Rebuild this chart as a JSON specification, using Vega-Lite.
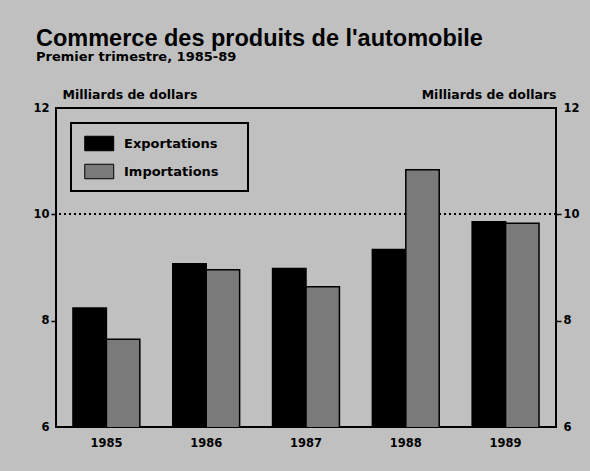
{
  "$schema": "https://vega.github.io/schema/vega-lite/v6.json",
  "width": 500,
  "height": 319,
  "autosize": {"type": "none"},
  "padding": {"left": 56, "top": 108, "right": 34, "bottom": 44},
  "background": "#c0c0c0",
  "title": {
    "text": "Commerce des produits de l'automobile",
    "subtitle": "Premier trimestre, 1985-89",
    "anchor": "start",
    "frame": "bounds",
    "dx": 3,
    "font": "Liberation Sans",
    "fontSize": 23.5,
    "fontWeight": "bold",
    "color": "black",
    "subtitleFont": "DejaVu Sans",
    "subtitleFontSize": 13,
    "subtitleFontWeight": "bold",
    "subtitleColor": "black",
    "subtitlePadding": 1,
    "offset": 24
  },
  "data": {
    "values": [
      {"annee": "1985", "serie": "Exportations", "valeur": 8.24},
      {"annee": "1985", "serie": "Importations", "valeur": 7.65},
      {"annee": "1986", "serie": "Exportations", "valeur": 9.07},
      {"annee": "1986", "serie": "Importations", "valeur": 8.96},
      {"annee": "1987", "serie": "Exportations", "valeur": 8.98},
      {"annee": "1987", "serie": "Importations", "valeur": 8.64},
      {"annee": "1988", "serie": "Exportations", "valeur": 9.34},
      {"annee": "1988", "serie": "Importations", "valeur": 10.84},
      {"annee": "1989", "serie": "Exportations", "valeur": 9.86},
      {"annee": "1989", "serie": "Importations", "valeur": 9.83}
    ]
  },
  "layer": [
    {
      "mark": {"type": "rule", "strokeDash": [2, 3], "strokeWidth": 1.5, "color": "black"},
      "encoding": {
        "y": {
          "datum": 10,
          "type": "quantitative",
          "scale": {"domain": [6, 12], "zero": false, "nice": false},
          "axis": {
            "orient": "right",
            "values": [6, 8, 10, 12],
            "title": "Milliards de dollars",
            "titleAngle": 0,
            "titleAlign": "right",
            "titleBaseline": "alphabetic",
            "titleX": 0,
            "titleY": -10,
            "grid": false,
            "domain": false,
            "tickSize": 5,
            "tickWidth": 1.5,
            "tickColor": "black",
            "tickOpacity": {"condition": {"test": "datum.value == 8 || datum.value == 10", "value": 1}, "value": 0},
            "labelPadding": 2
          }
        }
      }
    },
    {
      "mark": {"type": "bar", "stroke": "black", "strokeWidth": 1.5, "clip": true},
      "encoding": {
        "x": {
          "field": "annee",
          "type": "nominal",
          "scale": {"paddingInner": 0.33, "paddingOuter": 0.17},
          "axis": {"title": null, "ticks": false, "domain": false, "labelAngle": 0, "labelPadding": 10}
        },
        "xOffset": {"field": "serie", "type": "nominal", "sort": ["Exportations", "Importations"]},
        "y": {
          "field": "valeur",
          "type": "quantitative",
          "scale": {"domain": [6, 12], "zero": false, "nice": false},
          "axis": {
            "orient": "left",
            "values": [6, 8, 10, 12],
            "title": "Milliards de dollars",
            "titleAngle": 0,
            "titleAlign": "left",
            "titleBaseline": "alphabetic",
            "titleX": 6,
            "titleY": -10,
            "grid": false,
            "domain": false,
            "tickSize": 5,
            "tickWidth": 1.5,
            "tickColor": "black",
            "tickOpacity": {"condition": {"test": "datum.value == 8 || datum.value == 10", "value": 1}, "value": 0},
            "labelPadding": 2
          }
        },
        "fill": {
          "field": "serie",
          "type": "nominal",
          "scale": {"domain": ["Exportations", "Importations"], "range": ["black", "#7a7a7a"]},
          "legend": {
            "title": "\u00a0",
            "titleOrient": "right",
            "titlePadding": 19,
            "titleFontSize": 13,
            "orient": "top-left",
            "offset": 15,
            "padding": 10,
            "strokeColor": "black",
            "fillColor": "#c0c0c0",
            "symbolType": "M-0.7,-0.75H2.3V0.75H-0.7Z",
            "symbolSize": 373,
            "symbolStrokeColor": "black",
            "symbolStrokeWidth": 1,
            "symbolOpacity": 1,
            "labelFont": "DejaVu Sans",
            "labelFontWeight": "bold",
            "labelFontSize": 13,
            "labelOffset": 22,
            "rowPadding": 8,
            "encode": {"legend": {"update": {"strokeWidth": {"value": 2}}}}
          }
        }
      }
    }
  ],
  "resolve": {"axis": {"y": "independent"}},
  "config": {
    "font": "DejaVu Sans",
    "view": {"stroke": "black", "strokeWidth": 2},
    "axis": {"labelFont": "DejaVu Sans", "labelFontSize": 11.5, "labelFontWeight": "bold", "labelColor": "black", "titleFont": "DejaVu Sans", "titleFontSize": 12.5, "titleFontWeight": "bold", "titleColor": "black"},
    "legend": {"labelColor": "black"}
  }
}
